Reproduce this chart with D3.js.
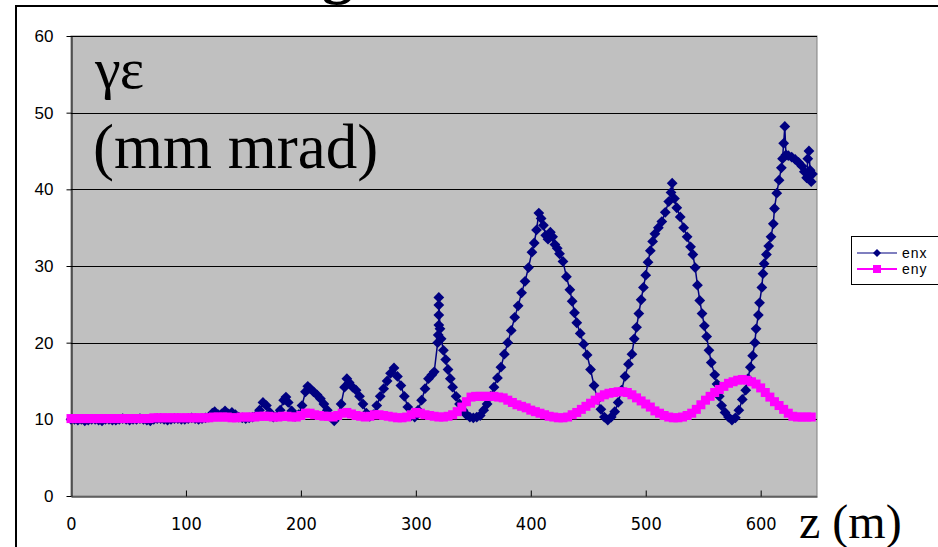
<!DOCTYPE html>
<html>
<head>
<meta charset="utf-8">
<script src="https://d3js.org/d3.v7.min.js"></script>
<style>
  body { margin: 0; background: #fff; }
  svg { display: block; }
</style>
</head>
<body>
<svg width="938" height="547"></svg>
<script>
// emittance along the line, [z (m), value (mm mrad)]
const enx = [
  [0,10.0],[3,10.0],[6,9.9],[9,10.0],[12,9.8],[15,9.9],[18,10.0],[21,10.0],[24,9.9],[27,9.8],
  [30,10.0],[33,10.0],[36,9.9],[39,9.9],[42,10.0],[45,10.1],[48,10.0],[51,9.9],[54,10.0],[57,10.0],
  [60,10.1],[63,10.0],[66,9.9],[69,9.8],[72,10.0],[75,10.1],[78,10.1],[81,10.0],[84,9.9],[87,10.0],
  [90,10.1],[93,10.1],[96,10.0],[99,10.0],[102,10.1],[105,10.2],[108,10.1],[111,10.0],[114,10.1],[117,10.2],
  [120,10.3],[123,10.8],[125,11.0],[128,10.6],[131,10.7],[134,11.1],[137,10.7],[140,10.9],[143,10.6],[146,10.3],
  [149,10.2],[152,10.1],[155,10.2],[158,10.3],[161,10.5],[164,11.2],[167,12.2],[170,11.8],[173,10.9],[176,10.3],
  [179,10.4],[182,11.2],[185,12.5],[187,12.9],[189,12.2],[192,11.1],[195,10.4],[198,10.6],[201,11.8],[204,13.6],
  [206,14.3],[208,14.0],[211,13.6],[214,13.2],[217,12.7],[220,12.0],[223,11.2],[226,10.3],[229,9.8],[232,10.4],
  [235,12.0],[238,14.2],[240,15.3],[242,14.8],[245,14.2],[248,13.8],[251,13.0],[254,12.0],[257,10.8],[260,10.4],
  [263,10.6],[266,11.8],[269,13.0],[272,14.0],[275,15.0],[278,16.0],[281,16.7],[284,15.6],[287,14.4],[290,13.0],
  [293,11.6],[296,10.5],[299,10.3],[302,11.2],[305,12.5],[308,14.0],[311,15.3],[314,15.8],[316,16.2],[319,20.0],
  [319.5,21.0],[320,22.3],[320,23.6],[320,24.9],[320,25.9],[321,21.8],[322,20.5],[324,19.0],[326,17.8],[328,16.5],
  [330,15.3],[332,14.2],[335,13.0],[338,12.0],[341,11.2],[344,10.6],[347,10.3],[350,10.2],[353,10.3],[356,10.5],
  [359,11.2],[362,12.0],[365,13.0],[368,14.2],[371,15.4],[374,16.8],[377,18.5],[380,20.0],[383,21.6],[386,23.3],
  [389,24.8],[392,26.5],[395,28.0],[398,29.8],[401,31.8],[403,33.0],[405,34.7],[407,36.9],[409,36.2],[411,35.3],
  [413,34.0],[415,33.5],[417,34.4],[419,33.8],[421,32.8],[423,32.3],[425,31.6],[428,30.6],[431,28.6],[434,26.9],
  [436,25.4],[438,23.9],[440,22.6],[443,21.2],[446,19.8],[449,18.4],[452,16.5],[455,14.4],[458,12.6],[461,11.3],
  [464,10.3],[467,9.9],[470,10.3],[473,11.0],[476,12.2],[479,13.8],[482,15.6],[485,17.2],[488,18.5],[490,20.5],
  [492,22.0],[494,23.8],[496,25.6],[498,27.2],[500,28.8],[502,30.5],[504,32.0],[506,33.2],[508,34.2],[511,35.0],
  [514,35.8],[517,37.0],[520,38.4],[522,39.6],[523,40.8],[525,38.8],[527,37.6],[530,36.4],[533,35.0],[536,33.8],
  [539,32.5],[541,31.5],[543,29.8],[545,27.5],[547,25.5],[549,23.8],[551,22.2],[553,20.8],[555,19.0],[557,17.4],
  [560,15.8],[562,14.6],[564,13.0],[566,11.8],[569,10.9],[572,10.3],[575,9.9],[578,10.2],[581,11.2],[584,12.6],
  [587,13.8],[589,15.3],[591,16.8],[593,18.3],[595,20.0],[596,21.8],[598,23.6],[599,25.2],[601,27.2],[602,29.0],
  [603,30.3],[605,31.5],[607,32.6],[609,33.8],[611,35.5],[612,37.5],[614,39.5],[616,41.2],[618,42.8],[619,44.0],
  [620,46.0],[621,48.2],[622,44.5],[624,44.4],[627,44.2],[630,43.9],[633,43.5],[636,43.0],[638,42.3],[640,41.5],
  [641,44.0],[642,45.0],[643,42.5],[644,41.0],[645,42.0]
];

const eny = [
  [0,10.1],[4,10.1],[8,10.1],[12,10.1],[16,10.1],[20,10.1],[24,10.1],[28,10.1],[32,10.1],[36,10.1],
  [40,10.1],[44,10.1],[48,10.1],[52,10.1],[56,10.1],[60,10.1],[64,10.1],[68,10.1],[72,10.2],[76,10.2],
  [80,10.2],[84,10.2],[88,10.2],[92,10.2],[96,10.2],[100,10.2],[104,10.2],[108,10.2],[112,10.2],[116,10.2],
  [120,10.2],[124,10.3],[128,10.3],[132,10.3],[136,10.3],[140,10.2],[144,10.2],[148,10.3],[152,10.3],[156,10.3],
  [160,10.3],[164,10.4],[168,10.4],[172,10.4],[176,10.3],[180,10.3],[184,10.4],[188,10.4],[192,10.3],[196,10.3],
  [200,10.5],[204,10.8],[208,10.8],[212,10.6],[216,10.5],[220,10.4],[224,10.4],[228,10.3],[232,10.5],[236,10.8],
  [240,10.9],[244,10.7],[248,10.5],[252,10.4],[256,10.3],[260,10.4],[264,10.6],[268,10.6],[272,10.5],[276,10.4],
  [280,10.3],[284,10.2],[288,10.2],[292,10.3],[296,10.6],[300,10.9],[304,10.8],[308,10.6],[312,10.5],[316,10.4],
  [320,10.3],[324,10.3],[328,10.4],[332,10.6],[336,11.0],[340,11.6],[344,12.3],[348,12.9],[352,13.0],[356,13.0],
  [360,13.0],[364,13.0],[368,13.0],[372,12.9],[376,12.8],[380,12.5],[384,12.2],[388,11.9],[392,11.7],[396,11.5],
  [400,11.2],[404,11.0],[408,10.8],[412,10.6],[416,10.4],[420,10.3],[424,10.2],[428,10.2],[432,10.3],[436,10.6],
  [440,10.9],[444,11.3],[448,11.7],[452,12.1],[456,12.5],[460,12.9],[464,13.2],[468,13.4],[472,13.5],[476,13.6],
  [480,13.6],[484,13.5],[488,13.2],[492,12.8],[496,12.4],[500,12.0],[504,11.6],[508,11.1],[512,10.8],[516,10.5],
  [520,10.3],[524,10.2],[528,10.2],[532,10.3],[536,10.5],[540,10.8],[544,11.3],[548,11.9],[552,12.5],[556,13.0],
  [560,13.5],[564,13.9],[568,14.3],[572,14.7],[576,14.9],[580,15.1],[584,15.2],[588,15.1],[592,14.9],[596,14.6],
  [600,14.1],[604,13.5],[608,12.9],[612,12.3],[616,11.8],[620,11.3],[624,10.8],[628,10.4],[632,10.3],[636,10.3],
  [640,10.3],[644,10.3]
];

const xTicks = [0, 100, 200, 300, 400, 500, 600];
const yTicks = [0, 10, 20, 30, 40, 50, 60];
const seriesNames = ["enx", "eny"];

var svg = d3.select("svg");

var x = d3.scaleLinear().domain([0, 649]).range([71, 817]);
var y = d3.scaleLinear().domain([0, 60]).range([496, 36]);

var diamond = "M0,-5.4L5.4,0L0,5.4L-5.4,0Z";

// outer frame (top and left edges only are visible)
svg.append("path")
  .attr("d", "M16,547 V6 H938")
  .attr("fill", "none").attr("stroke", "#000").attr("stroke-width", 2);

// bit of a cut-off title above the frame
svg.append("text")
  .attr("x", 322).attr("y", -8)
  .attr("font-family", "Liberation Serif, serif")
  .attr("font-weight", "bold")
  .attr("font-size", 62)
  .text("g");

// plot area
svg.append("rect")
  .attr("x", x(0)).attr("y", y(60))
  .attr("width", x(649) - x(0)).attr("height", y(0) - y(60))
  .attr("fill", "#c0c0c0").attr("stroke", "#808080").attr("stroke-width", 1);

// gridlines
svg.append("g").selectAll("line")
  .data(yTicks.filter(d => d > 0))
  .join("line")
  .attr("x1", x(0)).attr("x2", x(649))
  .attr("y1", d => Math.round(y(d)) + 0.5).attr("y2", d => Math.round(y(d)) + 0.5)
  .attr("stroke", "#000").attr("stroke-width", 1);

// y axis
var yAxis = svg.append("g")
  .attr("transform", "translate(" + (x(0) + 0.5) + ",0)")
  .call(d3.axisLeft(y).tickValues(yTicks).tickSize(5).tickPadding(13).tickSizeOuter(0));
yAxis.select(".domain").attr("stroke", "#000");
yAxis.selectAll("text")
  .attr("font-family", "Liberation Sans, Arial, sans-serif")
  .attr("font-size", 17).attr("fill", "#000");

// x axis, ticks pointing inwards
var xAxis = svg.append("g")
  .attr("transform", "translate(0," + (y(0) + 0.5) + ")")
  .call(d3.axisBottom(x).tickValues(xTicks).tickSize(-6).tickPadding(21).tickSizeOuter(0));
xAxis.select(".domain").attr("stroke", "#000");
xAxis.selectAll("text")
  .attr("font-family", "Liberation Sans Narrow, DejaVu Sans Condensed, sans-serif")
  .attr("font-size", 18).attr("fill", "#000");
xAxis.selectAll(".tick").filter(d => d === 0).select("line").remove();

// series
var line = d3.line().x(d => x(d[0])).y(d => y(d[1]));

svg.append("path").datum(enx)
  .attr("d", line).attr("fill", "none")
  .attr("stroke", "#000080").attr("stroke-width", 1.5);

svg.append("g").selectAll("path")
  .data(enx).join("path")
  .attr("transform", d => "translate(" + x(d[0]) + "," + y(d[1]) + ")")
  .attr("d", diamond)
  .attr("fill", "#000080");

svg.append("path").datum(eny)
  .attr("d", line).attr("fill", "none")
  .attr("stroke", "#ff00ff").attr("stroke-width", 4);

svg.append("g").selectAll("rect")
  .data(eny).join("rect")
  .attr("x", d => x(d[0]) - 4.5).attr("y", d => y(d[1]) - 4.5)
  .attr("width", 9).attr("height", 9)
  .attr("fill", "#ff00ff");

// labels inside the plot
svg.append("text")
  .attr("x", 95).attr("y", 88)
  .attr("font-family", "Liberation Serif, serif")
  .attr("font-size", 58)
  .text("γε");
svg.append("text")
  .attr("x", 93).attr("y", 168)
  .attr("font-family", "Liberation Serif, serif")
  .attr("font-size", 63)
  .text("(mm mrad)");

svg.append("text")
  .attr("x", 799).attr("y", 538)
  .attr("font-family", "Liberation Serif, serif")
  .attr("font-size", 48)
  .text("z (m)");

// legend
var lg = svg.append("g").attr("transform", "translate(851,236)");
lg.append("rect")
  .attr("x", 0.5).attr("y", 0.5).attr("width", 100).attr("height", 48)
  .attr("fill", "#fff").attr("stroke", "#000").attr("stroke-width", 1);
var colors = ["#000080", "#ff00ff"];
seriesNames.forEach(function(name, i) {
  var ly = 17 + i * 16;
  lg.append("line")
    .attr("x1", 6).attr("x2", 46).attr("y1", ly).attr("y2", ly)
    .attr("stroke", colors[i]).attr("stroke-width", i ? 2 : 1.2);
  if (i === 0) {
    lg.append("path")
      .attr("transform", "translate(26," + ly + ")")
      .attr("d", "M0,-4L4,0L0,4L-4,0Z")
      .attr("fill", colors[i]);
  } else {
    lg.append("rect")
      .attr("x", 22).attr("y", ly - 4).attr("width", 8).attr("height", 8)
      .attr("fill", colors[i]);
  }
  lg.append("text")
    .attr("x", 51).attr("y", ly + 5)
    .attr("font-family", "Liberation Sans, Arial, sans-serif")
    .attr("font-size", 14)
    .attr("letter-spacing", 1)
    .text(name);
});
</script>
</body>
</html>
